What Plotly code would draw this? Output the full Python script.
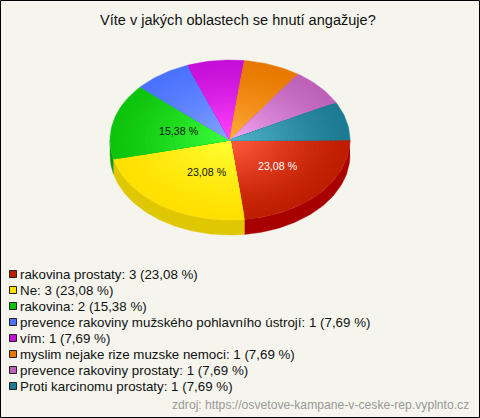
import math
import plotly.graph_objects as go

title = "Víte v jakých oblastech se hnutí angažuje?"
source = "zdroj: https://osvetove-kampane-v-ceske-rep.vyplnto.cz"
categories = ["rakovina prostaty", "Ne", "rakovina",
              "prevence rakoviny mužského pohlavního ústrojí", "vím",
              "myslim nejake rize muzske nemoci", "prevence rakoviny prostaty",
              "Proti karcinomu prostaty"]
values = [3, 3, 2, 1, 1, 1, 1, 1]
percent_labels = ["23,08 %", "23,08 %", "15,38 %", "7,69 %", "7,69 %", "7,69 %", "7,69 %", "7,69 %"]
rim_colors = ["#bf1d00", "#ffe000", "#0cc40c", "#4a72ff", "#c60fd8", "#e87800", "#bd62b8", "#1b7b92"]
core_colors = ["#ff5a3c", "#ffff33", "#3cff3c", "#84a4ff", "#ff44ff", "#ffac38", "#f2a6f2", "#52b4cc"]
side_colors = ["#a80000", "#e0c800", "#0a9c0a", "#3050c0", "#900aa0", "#b05a00", "#90488c", "#125c6e"]

BG = "#f5f5ee"
CX, CY, RX, RY, DEPTH = 230, 140, 120, 80, 15
RINGS = 24


def rgb(h):
    return [int(h[i:i + 2], 16) for i in (1, 3, 5)]


def mix(a, b, t):
    ca, cb = rgb(a), rgb(b)
    return "rgb(%d,%d,%d)" % tuple(round(x + (y - x) * t) for x, y in zip(ca, cb))


def arc(a0, a1, scale=1.0, dy=0.0):
    n = max(2, int(abs(a1 - a0) / 1.5) + 1)
    xs, ys = [], []
    for i in range(n + 1):
        a = math.radians(a0 + (a1 - a0) * i / n)
        xs.append(CX + RX * scale * math.cos(a))
        ys.append(CY + dy + RY * scale * math.sin(a))
    return xs, ys


total = sum(values)
edges = [0.0]
for v in values:
    edges.append(edges[-1] + v / total * 360)

fig = go.Figure()


def poly(xs, ys, color):
    fig.add_trace(go.Scatter(x=xs, y=ys, mode="lines", fill="toself", fillcolor=color,
                             line=dict(color=color, width=0.4), hoverinfo="skip", showlegend=False))


# side wall (front half only)
for i in range(len(values)):
    a0, a1 = edges[i], min(edges[i + 1], 180)
    if a0 >= 180:
        continue
    tx, ty = arc(a0, a1)
    bx, by = arc(a1, a0, dy=DEPTH)
    poly(tx + bx, ty + by, side_colors[i])

# top face, radial shading
for i in range(len(values)):
    for r in range(RINGS):
        s = 1 - r / RINGS
        xs, ys = arc(edges[i], edges[i + 1], scale=s)
        poly([CX] + xs + [CX], [CY] + ys + [CY], mix(rim_colors[i], core_colors[i], (r / (RINGS - 1)) ** 1.3))

# legend swatches
legend_y = [274 + 16 * i for i in range(len(categories))]
fig.add_trace(go.Scatter(x=[13] * len(categories), y=legend_y, mode="markers", hoverinfo="skip", showlegend=False,
                         marker=dict(symbol="square", size=7, color=rim_colors, line=dict(color="#222222", width=1))))

FONT = "Liberation Sans, Arial, sans-serif"
ann = [dict(x=237.5, y=20, text=title, showarrow=False, xanchor="center", yanchor="middle",
            font=dict(family=FONT, size=14.55, color="#111111")),
       dict(x=471, y=405, text=source, showarrow=False, xanchor="right", yanchor="middle",
            font=dict(family=FONT, size=12.17, color="#999999"))]
for c, v, p, y in zip(categories, values, percent_labels, legend_y):
    ann.append(dict(x=19, y=y, text=f"{c}: {v} ({p})", showarrow=False, xanchor="left", yanchor="middle",
                    borderpad=0, font=dict(family=FONT, size=13.33, color="#111111")))
for p, x, y, col in zip(percent_labels[:3], [277.5, 206.5, 179], [166, 172, 131], ["#ffffff", "#111111", "#111111"]):
    ann.append(dict(x=x, y=y, text=p, showarrow=False, xanchor="center", yanchor="middle",
                    font=dict(family=FONT, size=10.67, color=col)))

fig.update_layout(
    width=480, height=418, autosize=False,
    margin=dict(l=0, r=0, t=0, b=0), paper_bgcolor=BG, plot_bgcolor=BG,
    xaxis=dict(range=[0, 480], visible=False, fixedrange=True),
    yaxis=dict(range=[418, 0], visible=False, fixedrange=True),
    annotations=ann, hovermode=False,
    shapes=[dict(type="rect", x0=0.5, y0=0.5, x1=479.5, y1=417.5, line=dict(color="#000000", width=1))],
)
fig.write_html("out.html", config=dict(displayModeBar=False),
               post_script="document.body.style.margin='0';document.documentElement.style.overflow='hidden';")
